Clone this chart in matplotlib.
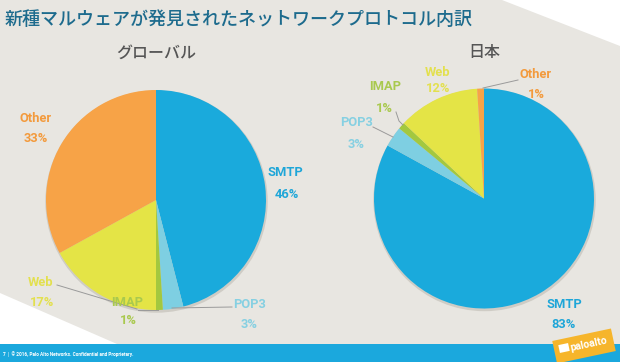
import matplotlib
matplotlib.use("Agg")
import matplotlib.pyplot as plt
from matplotlib.patches import Polygon, Rectangle, Circle
import numpy as np

# ---------------- data ----------------
title = "新種マルウェアが発見されたネットワークプロトコル内訳"
regions = ["グローバル", "日本"]
protocols = ["SMTP", "POP3", "IMAP", "Web", "Other"]
global_share = [46, 3, 1, 17, 33]
japan_share = [83, 3, 1, 12, 1]
footer = "7  |  © 2016, Palo Alto Networks. Confidential and Proprietary."

# ---------------- style ----------------
slice_colors = ["#1AAADC", "#7ECFE2", "#A3C83F", "#E4E446", "#F7A347"]
text_colors = ["#1EA6D8", "#86D0E2", "#A9C94E", "#E3E04E", "#F39A3C"]
bg = "#E8E6E1"
CJK = ["Noto Sans CJK JP", "DejaVu Sans"]
LAT = ["Roboto", "DejaVu Sans"]

W, H = 620, 362
fig = plt.figure(figsize=(W / 100, H / 100), dpi=100)
fig.patch.set_facecolor(bg)
ax = fig.add_axes([0, 0, 1, 1])
ax.set_facecolor(bg)

# pie layout (pixel coordinates, y down)
centers = [(156, 200), (484, 198.5)]
radius = 110

for (cx, cy), vals in zip(centers, [global_share, japan_share]):
    # soft shadow
    ax.add_patch(Circle((cx + 0.5, cy + 1.5), radius + 1.2, color="#CFCCC5", zorder=2, lw=0))
    ax.pie(vals, colors=slice_colors, startangle=-90, counterclock=True,
           center=(cx, cy), radius=radius, frame=False,
           wedgeprops=dict(linewidth=0, zorder=3))

# label positions: (name_xy, pct_xy)
label_pos = [
    {"SMTP": ((285, 173), (287, 194)), "POP3": ((250, 304), (249, 325)),
     "IMAP": ((127, 303), (128, 321)), "Web": ((41, 283), (42, 303)),
     "Other": ((36, 118), (36, 139))},
    {"SMTP": ((564, 305), (564, 325)), "POP3": ((357, 123), (356, 145)),
     "IMAP": ((385, 87), (384, 108)), "Web": ((438, 73), (438, 89)),
     "Other": ((536, 74), (536, 94))},
]
leaders = [
    [[(57, 285), (137, 309)], [(138, 310), (158, 310)], [(232, 307), (172, 308)]],
    [[(518, 80), (483, 88)], [(396, 112), (399, 121), (403, 125)],
     [(373, 127), (393, 137)]],
]

for vals, pos, lds in zip([global_share, japan_share], label_pos, leaders):
    for name, v, tc in zip(protocols, vals, text_colors):
        (nx, ny), (px, py) = pos[name]
        ax.text(nx, ny, name, color=tc, fontsize=9.3, fontweight="bold",
                family=LAT, ha="center", va="center", zorder=6)
        ax.text(px, py, f"{v}%", color=tc, fontsize=9.3, fontweight="bold",
                family=LAT, ha="center", va="center", zorder=6)
    for pts in lds:
        xs, ys = zip(*pts)
        ax.plot(xs, ys, color="#9A9A9A", lw=0.7, zorder=5)

# background decorations
ax.add_patch(Polygon([(502, 0), (W, 0), (W, 46)], closed=True, color="white", lw=0, zorder=1))
ax.add_patch(Polygon([(0, 293), (117, 344), (0, 344)], closed=True, color="white", lw=0, zorder=1))
ax.add_patch(Rectangle((0, 344), W, H - 344, color="#1BA8DD", lw=0, zorder=4))
ax.text(3, 354, footer, color="white", fontsize=3.4, fontweight="bold",
        family=LAT, ha="left", va="center", zorder=6)

# logo
ang = np.deg2rad(-12)
lc = np.array([584, 346])
hw, hh = 30, 11.5
corners = np.array([[-hw, -hh], [hw, -hh], [hw, hh], [-hw, hh]])
rot = np.array([[np.cos(ang), -np.sin(ang)], [np.sin(ang), np.cos(ang)]])
ax.add_patch(Polygon(corners @ rot.T + lc, closed=True, color="#F6B52B", lw=0, zorder=7))
ax.text(lc[0] + 5, lc[1] - 2, "paloalto", color="white", fontsize=7.5, fontweight="bold",
        family=LAT, ha="center", va="center", rotation=12, zorder=8)
ax.add_patch(Polygon(np.array([[-5, -4], [5, -4], [5, 4], [-5, 4]]) @ rot.T + lc + [-20, 2],
                     closed=True, color="white", lw=0, zorder=8))

# titles
ax.text(5, 20, title, color="#1D6B8D", fontsize=13, fontweight="medium", family=CJK,
        ha="left", va="center", zorder=6)
for (cx, _), rname in zip(centers, regions):
    ax.text(cx, 53, rname, color="#555555", fontsize=11.5, fontweight="medium",
            family=CJK, ha="center", va="center", zorder=6)

ax.set_xlim(0, W)
ax.set_ylim(H, 0)
ax.set_aspect("auto")
ax.axis("off")
fig.savefig("out.png", dpi=100, facecolor=bg)
